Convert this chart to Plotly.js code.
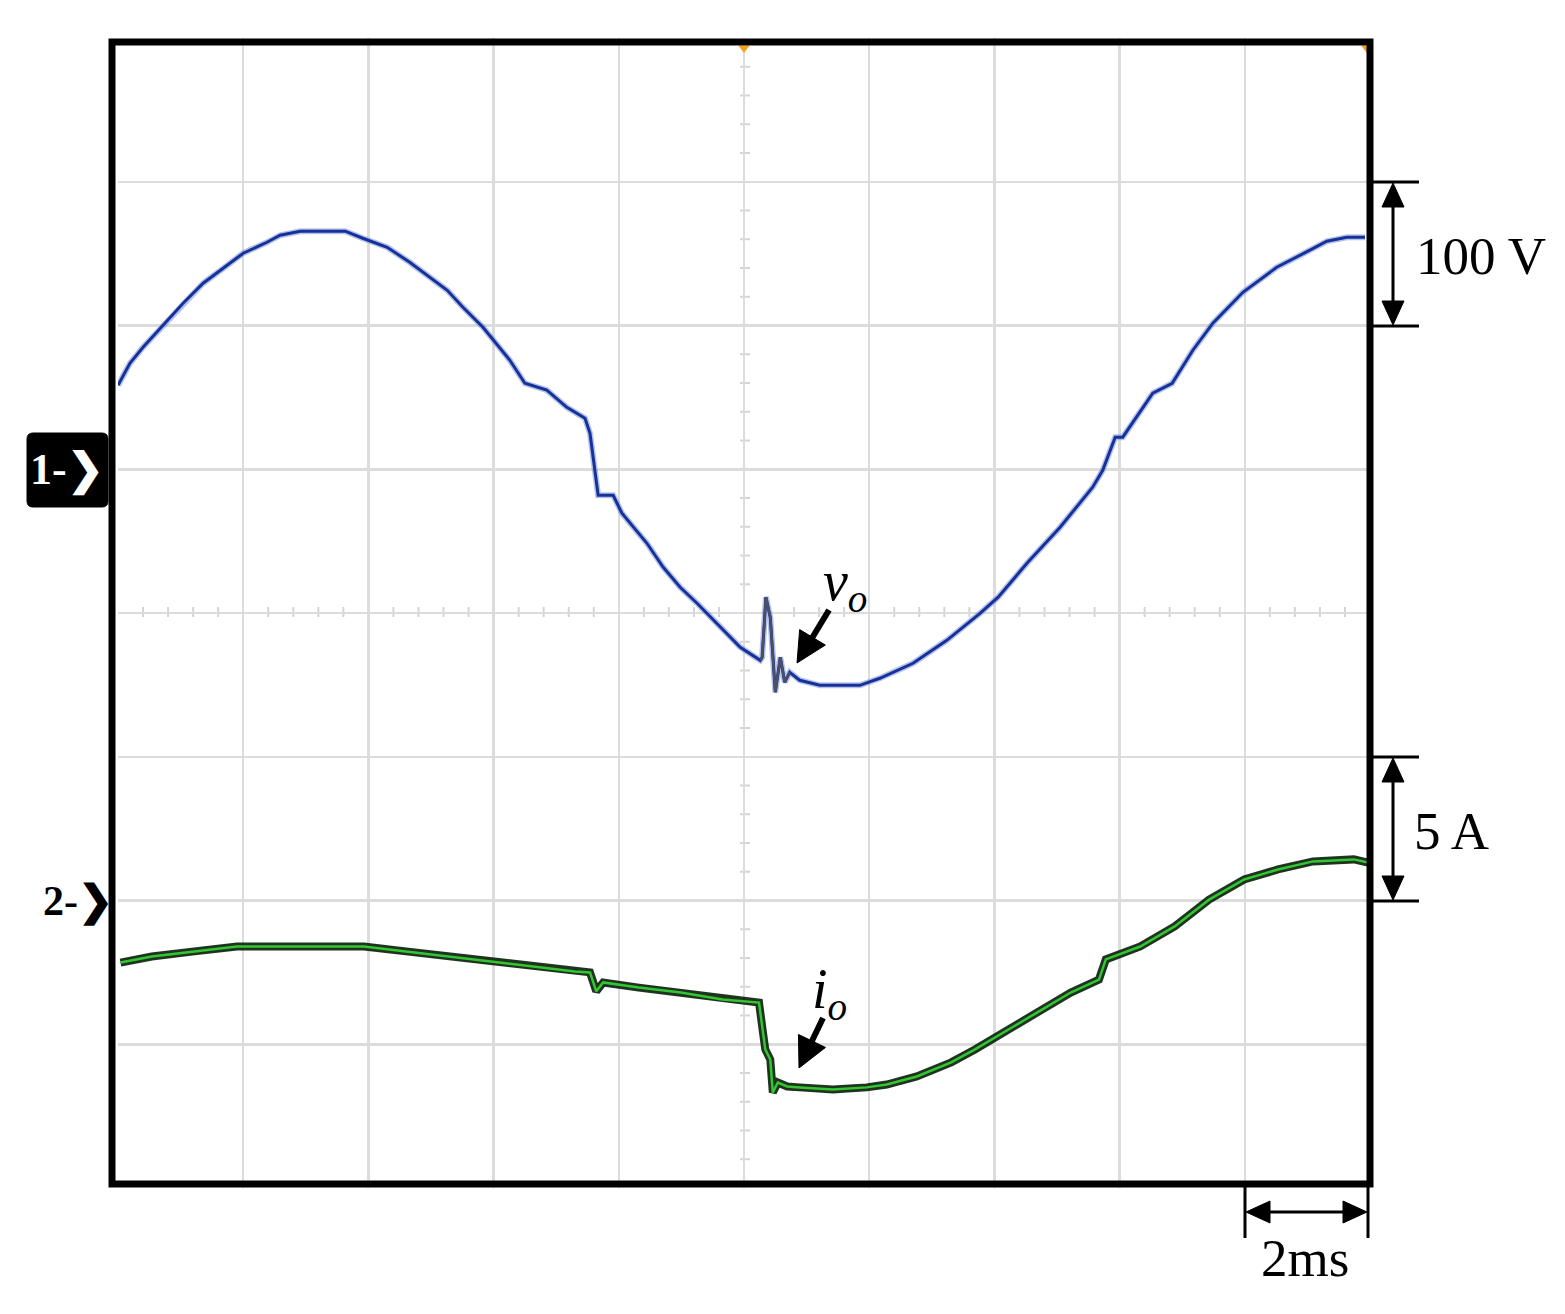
<!DOCTYPE html>
<html>
<head>
<meta charset="utf-8">
<script src="https://cdn.plot.ly/plotly-3.0.1.min.js"></script>
<style>
  body { margin: 0; background: #fff; }
  #scope { width: 1565px; height: 1314px; }
</style>
</head>
<body>
<div id="scope"></div>
<script>
// output voltage v_o (time in ms, volts)
var tV = [0.00, 0.19, 0.40, 0.72, 1.04, 1.36, 1.68, 2.00, 2.38, 2.59, 2.91, 3.63, 3.91, 4.30, 4.66, 4.98,
          5.26, 5.51, 5.83, 6.26, 6.50, 6.85, 7.17, 7.46, 7.54, 7.67, 7.91, 8.05, 8.45, 8.71, 8.98, 9.25,
          9.62, 9.94, 10.26, 10.29, 10.35, 10.42, 10.50, 10.58, 10.65, 10.73, 10.89, 11.21, 11.85, 12.17,
          12.70, 13.24, 13.77, 14.06, 14.52, 15.05, 15.57, 15.73, 15.93, 16.05, 16.53, 16.84, 17.17, 17.49,
          17.97, 18.51, 19.04, 19.31, 19.63, 19.92]
var vo = [58.4, 73.7, 84.9, 100.2, 115.5, 129.4, 139.8, 150.3, 157.9, 162.8, 165.6, 165.6, 160.7, 154.4, 144.0, 133.6,
          124.5, 112.7, 98.8, 75.8, 59.8, 55.0, 43.1, 35.5, 25.0, -18.1, -18.1, -30.6, -51.5, -68.2, -82.1, -93.2,
          -109.9, -123.8, -132.9, -130.8, -89.0, -103.0, -155.1, -130.8, -148.2, -141.2, -146.8, -150.3, -150.3, -145.4,
          -135.0, -119.0, -100.2, -89.0, -65.4, -40.3, -12.5, -0.7, 22.3, 22.3, 52.9, 59.8, 82.8, 101.6,
          123.1, 140.5, 152.4, 158.6, 161.4, 161.4]

// output current i_o (time in ms, amps)
var tI = [0.04, 0.54, 1.22, 1.90, 2.91, 3.93, 4.60, 5.27, 5.96, 6.63, 7.30, 7.54, 7.64, 7.75, 8.32, 8.99,
          9.66, 10.24, 10.29, 10.34, 10.42, 10.46, 10.54, 10.69, 10.89, 11.42, 11.96, 12.28, 12.76, 13.31,
          13.69, 14.03, 14.68, 15.22, 15.67, 15.78, 16.33, 16.88, 17.43, 17.99, 18.53, 19.09, 19.74, 19.97]
var io = [-2.16, -1.95, -1.77, -1.60, -1.60, -1.60, -1.77, -1.95, -2.12, -2.30, -2.47, -2.50, -3.16, -2.85, -3.03, -3.20,
          -3.44, -3.55, -4.38, -5.18, -5.53, -6.68, -6.33, -6.47, -6.50, -6.57, -6.50, -6.40, -6.12, -5.63,
          -5.18, -4.73, -3.90, -3.20, -2.75, -2.05, -1.60, -0.90, 0.03, 0.73, 1.08, 1.36, 1.43, 1.32]

// scope settings
var timePerDiv = 2      // ms
var voltPerDiv = 100    // V
var ampPerDiv = 5       // A
var ch1Offset = 1       // divisions above centre
var ch2Offset = -2

// plot area in pixels
var PX0 = 118, PW = 1252, PY0 = 38, PH = 1150
function px(x) { return (x - PX0) / PW }
function py(y) { return (PY0 + PH - y) / PH }

var serif = 'Liberation Serif, Times New Roman, serif'

// spike part of v_o is drawn greyish
var spikeT = [], spikeV = []
for (var i = 0; i < tV.length; i++) {
    if (tV[i] >= 10.26 && tV[i] <= 10.74) { spikeT.push(tV[i]); spikeV.push(vo[i]) }
}

var traces = [
    { x: tV, y: vo, type: 'scatter', mode: 'lines', line: {color: 'rgba(120,145,215,0.55)', width: 6}, hoverinfo: 'skip' },
    { x: tV, y: vo, type: 'scatter', mode: 'lines', line: {color: '#17319a', width: 3}, name: 'vo' },
    { x: spikeT, y: spikeV, type: 'scatter', mode: 'lines', line: {color: '#4b5068', width: 2.5}, hoverinfo: 'skip' },
    { x: tI, y: io, yaxis: 'y2', type: 'scatter', mode: 'lines', line: {color: 'rgba(5,30,5,0.9)', width: 8}, hoverinfo: 'skip' },
    { x: tI, y: io, yaxis: 'y2', type: 'scatter', mode: 'lines', line: {color: '#33c633', width: 2.5}, name: 'io' },
    // trigger marker
    { x: [10, 19.95], y: [293, 293], type: 'scatter', mode: 'markers', cliponaxis: false,
      marker: {symbol: 'triangle-down', size: 10, color: '#f5a21d'}, hoverinfo: 'skip' }
]

var shapes = []
// frame
shapes.push({type: 'rect', xref: 'paper', yref: 'paper', x0: px(112), x1: px(1370), y0: py(1184), y1: py(42),
             line: {color: '#000', width: 7}, layer: 'above'})
// centre graticule ticks
for (var k = 1; k < 50; k++) {
    if (k % 5 == 0) continue
    var t = k * timePerDiv / 5
    shapes.push({type: 'line', xref: 'x', yref: 'paper', x0: t, x1: t, y0: py(617), y1: py(607),
                 line: {color: '#d4d4d4', width: 2}, layer: 'below'})
}
for (var k = -19; k < 20; k++) {
    if (k % 5 == 0) continue
    var v = -voltPerDiv + k * voltPerDiv / 5
    shapes.push({type: 'line', xref: 'paper', yref: 'y', x0: px(740), x1: px(750), y0: v, y1: v,
                 line: {color: '#d4d4d4', width: 2}, layer: 'below'})
}
// channel 1 badge (rounded)
var bx0 = px(27), bx1 = px(108), by0 = py(507), by1 = py(433), rx = 6 / PW, ry = 6 / PH
shapes.push({type: 'path', xref: 'paper', yref: 'paper', fillcolor: '#000', line: {color: '#000', width: 1},
    path: 'M' + (bx0 + rx) + ',' + by0 + ' L' + (bx1 - rx) + ',' + by0 + ' Q' + bx1 + ',' + by0 + ' ' + bx1 + ',' + (by0 + ry) +
          ' L' + bx1 + ',' + (by1 - ry) + ' Q' + bx1 + ',' + by1 + ' ' + (bx1 - rx) + ',' + by1 +
          ' L' + (bx0 + rx) + ',' + by1 + ' Q' + bx0 + ',' + by1 + ' ' + bx0 + ',' + (by1 - ry) +
          ' L' + bx0 + ',' + (by0 + ry) + ' Q' + bx0 + ',' + by0 + ' ' + (bx0 + rx) + ',' + by0 + ' Z'})
// scale bar caps
;[182, 326, 757, 901].forEach(function (y) {
    shapes.push({type: 'line', xref: 'paper', yref: 'paper', x0: px(1370), x1: px(1419), y0: py(y), y1: py(y),
                 line: {color: '#000', width: 3}})
})
;[1245, 1368].forEach(function (x) {
    shapes.push({type: 'line', xref: 'paper', yref: 'paper', x0: px(x), x1: px(x), y0: py(1185), y1: py(1238),
                 line: {color: '#000', width: 3}})
})

// arrow from tail (x1,y1) to tip (x2,y2), pixels; head length L, half width W
function arrow(x1, y1, x2, y2, L, W, lw) {
    var dx = x2 - x1, dy = y2 - y1, len = Math.sqrt(dx * dx + dy * dy)
    dx /= len; dy /= len
    var bx = x2 - dx * L, by = y2 - dy * L
    var nx = -dy * W, ny = dx * W
    shapes.push({type: 'line', xref: 'paper', yref: 'paper', x0: px(x1), y0: py(y1), x1: px(bx + dx * 2), y1: py(by + dy * 2),
                 line: {color: '#000', width: lw}})
    shapes.push({type: 'path', xref: 'paper', yref: 'paper', fillcolor: '#000', line: {color: '#000', width: 1},
                 path: 'M' + px(x2) + ',' + py(y2) + ' L' + px(bx + nx) + ',' + py(by + ny) +
                       ' L' + px(bx - nx) + ',' + py(by - ny) + ' Z'})
}
arrow(829, 610, 797, 663, 30, 15, 6)
arrow(823, 1018, 799, 1068, 30, 15, 6)
arrow(1393, 254, 1393, 183, 24, 11, 3)
arrow(1393, 254, 1393, 325, 24, 11, 3)
arrow(1393, 829, 1393, 758, 24, 11, 3)
arrow(1393, 829, 1393, 900, 24, 11, 3)
arrow(1306, 1212, 1246, 1212, 24, 11, 3)
arrow(1306, 1212, 1367, 1212, 24, 11, 3)

function label(x, y, text, size, extra) {
    var a = {xref: 'paper', yref: 'paper', x: px(x), y: py(y), text: text, showarrow: false,
             font: {family: serif, size: size, color: '#000'}, xanchor: 'center', yanchor: 'middle'}
    for (var key in extra) a[key] = extra[key]
    return a
}

var annotations = [
    label(67, 471, '<b>1-❯</b>', 44, {font: {family: serif, size: 44, color: '#fff'}}),
    label(78, 902, '<b>2-❯</b>', 42),
    label(1414, 256, '100 V', 53, {xanchor: 'left'}),
    label(1412, 831, '5 A', 53, {xanchor: 'left'}),
    label(1305, 1258, '2ms', 53),
    label(845, 585, '<i>v</i><sub><i>o</i></sub>', 56),
    label(830, 993, '<i>i</i><sub><i>o</i></sub>', 56)
]

var grid = {color: '#dcdcdc', width: 2.5}
var layout = {
    width: 1565, height: 1314,
    margin: {l: PX0, r: 1565 - PX0 - PW, t: PY0, b: 1314 - PY0 - PH, pad: 0},
    paper_bgcolor: '#fff', plot_bgcolor: '#fff',
    showlegend: false,
    xaxis: {range: [0, 10 * timePerDiv], dtick: timePerDiv, showgrid: true, gridcolor: grid.color, gridwidth: grid.width,
            zeroline: false, showticklabels: false, ticks: '', showline: false, fixedrange: true},
    yaxis: {range: [(-4 - ch1Offset) * voltPerDiv, (4 - ch1Offset) * voltPerDiv], dtick: voltPerDiv,
            showgrid: true, gridcolor: grid.color, gridwidth: grid.width,
            zeroline: false, showticklabels: false, ticks: '', showline: false, fixedrange: true},
    yaxis2: {range: [(-4 - ch2Offset) * ampPerDiv, (4 - ch2Offset) * ampPerDiv], overlaying: 'y',
             showgrid: false, zeroline: false, showticklabels: false, ticks: '', showline: false, fixedrange: true},
    shapes: shapes,
    annotations: annotations
}

Plotly.newPlot('scope', traces, layout, {staticPlot: true, displayModeBar: false})
</script>
</body>
</html>
